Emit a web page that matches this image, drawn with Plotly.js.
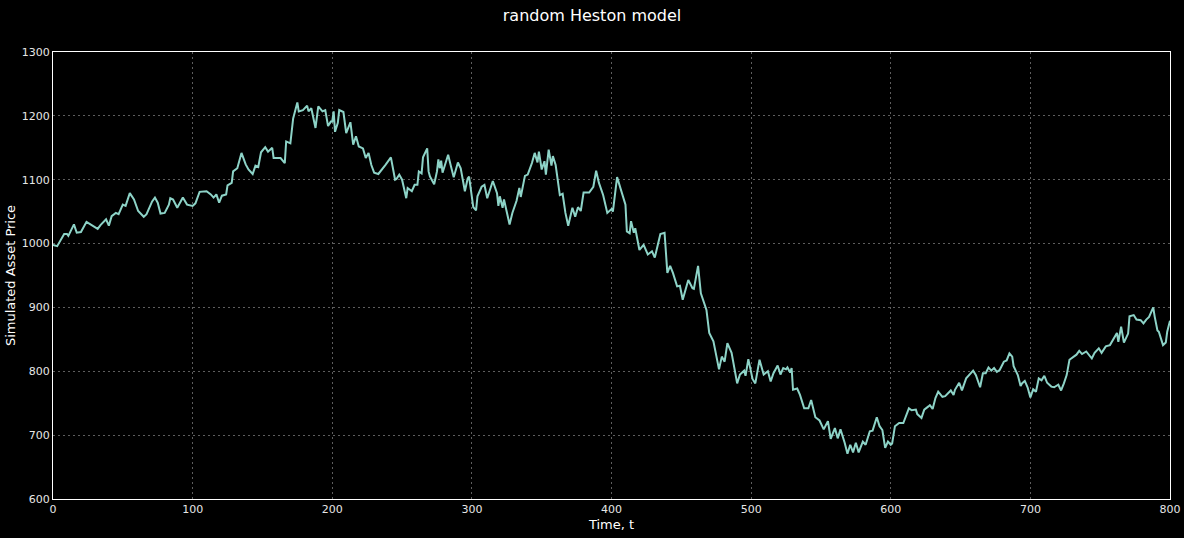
<!DOCTYPE html>
<html>
<head>
<meta charset="utf-8">
<script src="https://cdn.plot.ly/plotly-3.0.1.min.js"></script>
<style>
  html, body { margin: 0; padding: 0; background: #000; }
  #chart { width: 1184px; height: 538px; }
</style>
</head>
<body>
<div id="chart"></div>
<script>
// time steps
const timeSteps = [
  0, 3, 8, 10, 11, 15, 17, 20, 24, 32, 34, 38, 40, 42, 45, 47, 50, 52, 55, 58,
  61, 65, 67, 71, 73, 75, 77, 80, 83, 84, 86, 88, 89, 93, 96, 100, 102, 105, 110, 113,
  115, 117, 119, 121, 124, 125, 128, 129, 132, 135, 138, 140, 143, 145, 147, 149, 152, 154, 157, 158,
  163, 166, 167, 170, 172, 175, 176, 179, 182, 183, 185, 188, 190, 193, 195, 197, 199, 200, 201, 202,
  204, 205, 208, 210, 211, 213, 215, 217, 219, 222, 224, 226, 228, 230, 233, 235, 238, 242, 245, 246,
  248, 250, 253, 254, 257, 259, 261, 262, 264, 265, 268, 269, 270, 273, 275, 276, 277, 278, 279, 281,
  283, 285, 287, 290, 292, 295, 297, 298, 301, 303, 304, 307, 309, 311, 313, 315, 318, 319, 320, 322,
  323, 327, 329, 332, 334, 335, 338, 340, 343, 345, 347, 348, 350, 352, 353, 355, 357, 358, 360, 363,
  365, 367, 369, 372, 374, 376, 378, 380, 384, 387, 389, 391, 394, 397, 400, 401, 404, 407, 410, 411,
  413, 414, 416, 417, 418, 420, 423, 426, 429, 431, 435, 438, 440, 442, 444, 447, 449, 451, 455, 458,
  459, 462, 464, 468, 470, 473, 477, 479, 481, 483, 486, 490, 492, 495, 496, 498, 501, 503, 506, 509,
  512, 514, 516, 519, 521, 523, 525, 526, 528, 529, 530, 533, 535, 538, 541, 543, 546, 549, 552, 555,
  557, 560, 562, 564, 567, 569, 571, 573, 575, 577, 580, 582, 585, 587, 590, 592, 594, 596, 598, 600,
  601, 603, 606, 609, 613, 615, 618, 619, 622, 624, 627, 628, 630, 632, 634, 637, 639, 643, 645, 646,
  649, 651, 654, 657, 659, 661, 664, 666, 668, 670, 672, 674, 676, 678, 681, 683, 685, 687, 688, 691,
  693, 694, 696, 698, 700, 702, 704, 706, 708, 710, 712, 715, 717, 720, 722, 724, 726, 728, 731, 733,
  735, 737, 740, 744, 746, 749, 751, 754, 757, 759, 762, 763, 765, 767, 770, 771, 774, 776, 779, 781,
  783, 785, 788, 789, 791, 792, 795, 797, 798, 800
];

// simulated asset price at each time step
const assetPrice = [
  998, 996, 1015, 1015, 1012, 1030, 1017, 1018, 1034, 1023, 1029, 1038, 1028, 1043, 1048, 1046, 1061, 1059, 1079, 1069,
  1051, 1042, 1046, 1066, 1072, 1064, 1047, 1048, 1061, 1071, 1069, 1061, 1056, 1072, 1061, 1059, 1063, 1081, 1082, 1077,
  1072, 1077, 1064, 1075, 1077, 1091, 1095, 1113, 1118, 1142, 1124, 1116, 1109, 1122, 1120, 1143, 1151, 1144, 1150, 1134,
  1134, 1126, 1160, 1157, 1196, 1221, 1207, 1209, 1216, 1207, 1212, 1181, 1215, 1207, 1209, 1184, 1191, 1191, 1207, 1175,
  1189, 1209, 1206, 1173, 1178, 1190, 1155, 1168, 1152, 1149, 1134, 1142, 1123, 1111, 1109, 1114, 1123, 1135, 1100, 1101,
  1108, 1100, 1071, 1087, 1082, 1092, 1092, 1113, 1110, 1135, 1149, 1113, 1105, 1093, 1113, 1132, 1118, 1130, 1111, 1125,
  1139, 1121, 1104, 1127, 1118, 1082, 1102, 1105, 1057, 1052, 1074, 1089, 1092, 1071, 1084, 1098, 1079, 1059, 1074, 1056,
  1069, 1030, 1048, 1067, 1087, 1073, 1106, 1108, 1126, 1142, 1127, 1144, 1116, 1129, 1108, 1147, 1122, 1137, 1123, 1076,
  1078, 1048, 1028, 1056, 1042, 1057, 1051, 1080, 1080, 1089, 1114, 1095, 1076, 1048, 1054, 1050, 1104, 1082, 1061, 1019,
  1016, 1035, 1017, 1024, 1014, 990, 998, 983, 988, 978, 1015, 1017, 954, 965, 954, 933, 934, 912, 943, 930,
  929, 965, 922, 896, 860, 847, 803, 823, 815, 844, 829, 781, 795, 801, 793, 819, 788, 781, 818, 795,
  800, 784, 797, 809, 795, 805, 803, 806, 798, 805, 771, 773, 763, 742, 742, 755, 728, 723, 709, 722,
  694, 711, 695, 709, 688, 671, 685, 673, 688, 673, 690, 685, 706, 707, 728, 714, 708, 680, 690, 685,
  687, 714, 719, 719, 742, 739, 740, 733, 727, 740, 745, 747, 741, 758, 768, 760, 761, 770, 763, 771,
  782, 770, 789, 797, 801, 794, 775, 797, 797, 806, 801, 805, 799, 802, 815, 817, 828, 823, 808, 794,
  777, 781, 785, 775, 759, 772, 768, 789, 786, 793, 782, 776, 775, 779, 770, 781, 794, 818, 823, 826,
  832, 827, 831, 820, 829, 836, 829, 839, 841, 848, 860, 846, 870, 845, 859, 886, 888, 881, 880, 875,
  881, 885, 900, 886, 864, 862, 841, 845, 862, 879
];

const xTicks = [0, 100, 200, 300, 400, 500, 600, 700, 800];
const yTicks = [600, 700, 800, 900, 1000, 1100, 1200, 1300];

const trace = {
  x: timeSteps,
  y: assetPrice,
  mode: "lines",
  line: { color: "#8dd3c7", width: 2 },
  hoverinfo: "skip"
};

const axisStyle = {
  showline: true,
  linecolor: "#ffffff",
  linewidth: 1,
  mirror: true,
  showgrid: true,
  gridcolor: "#5e5e5e",
  griddash: "2px,3px",
  gridwidth: 1,
  zeroline: false,
  ticks: "",
  tickfont: { family: "DejaVu Sans", size: 11, color: "#e6e6e6" }
};

const layout = {
  width: 1184,
  height: 538,
  margin: { l: 53, r: 14, t: 52, b: 39 },
  paper_bgcolor: "#000000",
  plot_bgcolor: "#000000",
  font: { family: "DejaVu Sans", color: "#ffffff" },
  showlegend: false,
  title: {
    text: "random Heston model",
    font: { family: "DejaVu Sans", size: 16, color: "#ffffff" },
    x: 0.5,
    xanchor: "center",
    y: 1 - 15 / 538,
    yanchor: "middle"
  },
  xaxis: Object.assign({}, axisStyle, {
    range: [0, 800],
    tickvals: xTicks,
    ticktext: xTicks.map(String),
    title: { text: "Time, t", font: { family: "DejaVu Sans", size: 13, color: "#ffffff" }, standoff: 4 }
  }),
  yaxis: Object.assign({}, axisStyle, {
    range: [600, 1300],
    tickvals: yTicks,
    ticktext: yTicks.map(String),
    title: { text: "Simulated Asset Price", font: { family: "DejaVu Sans", size: 13, color: "#ffffff" }, standoff: 3 }
  })
};

Plotly.newPlot("chart", [trace], layout, { displayModeBar: false, staticPlot: true });
</script>
</body>
</html>
